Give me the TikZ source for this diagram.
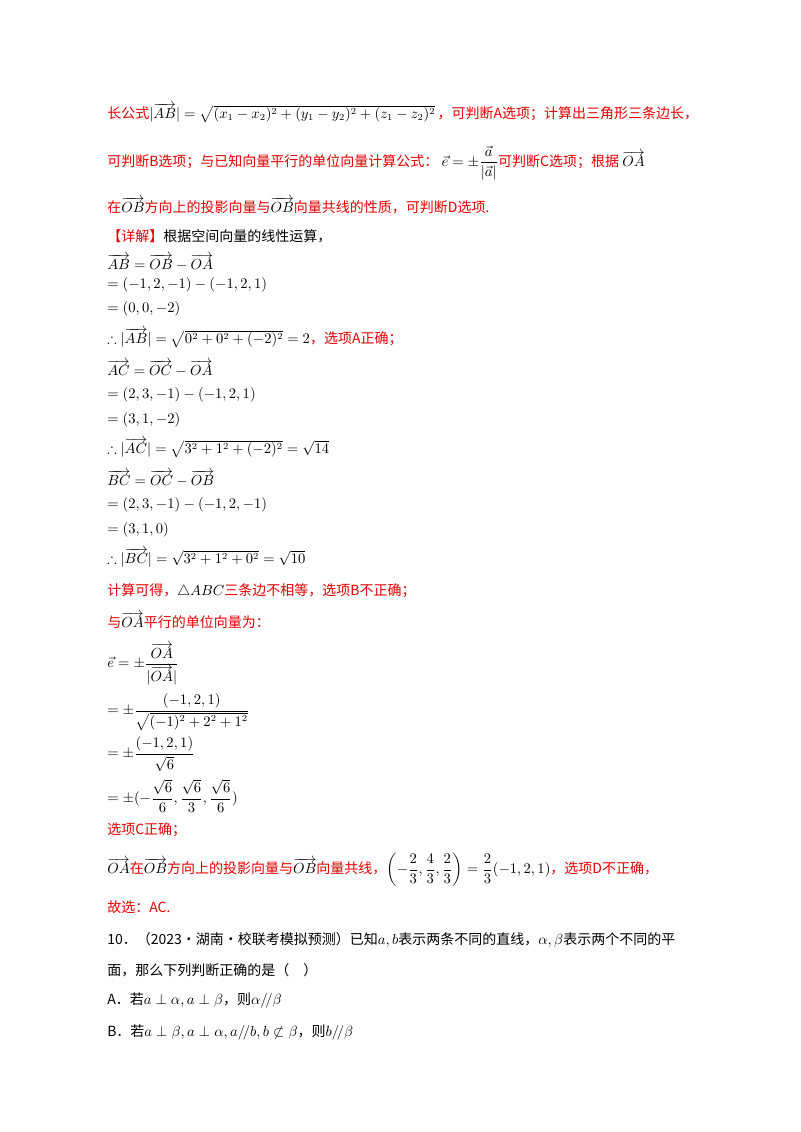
\documentclass[tikz,border=0pt]{standalone}
\usepackage{amsmath,amssymb}
\usepackage{fontspec}
\setmainfont{Noto Sans CJK SC}
\definecolor{rd}{RGB}{230,0,0}
\newcommand{\vv}[1]{\overrightarrow{#1}}
\begin{document}
\begin{tikzpicture}[x=0.75pt,y=-0.75pt,
  tx/.style={anchor=west,inner sep=0pt,font=\fontsize{10.5}{13}\selectfont},
  rt/.style={tx,text=rd}]
\useasboundingbox (0,0) rectangle (800,1132);
\node[rt] (l1) at (107,113) {长公式{\color{black}$|\vv{AB}|=\sqrt{(x_1-x_2)^2+(y_1-y_2)^2+(z_1-z_2)^2}$}\,，可判断A选项；计算出三角形三条边长，};
\node[rt] (l2) at (107,163) {可判断B选项；与已知向量平行的单位向量计算公式：\ {\color{black}$\vec e=\pm\dfrac{\vec a}{|\vec a|}$}可判断C选项；根据\ {\color{black}$\vv{OA}$}};
\node[rt] (l3) at (107,206) {在{\color{black}$\vv{OB}$}方向上的投影向量与{\color{black}$\vv{OB}$}向量共线的性质，可判断D选项.};
\node[tx] (l4) at (107,236) {{\color{rd}【详解】}根据空间向量的线性运算，};
\node[tx] (l5) at (107,262) {$\vv{AB}=\vv{OB}-\vv{OA}$};
\node[tx] (l6) at (107,285) {$=(-1,2,-1)-(-1,2,1)$};
\node[tx] (l7) at (107,309) {$=(0,0,-2)$};
\node[tx] (l8) at (107,338) {$\therefore|\vv{AB}|=\sqrt{0^2+0^2+(-2)^2}=2${\color{rd}，选项A正确；}};
\node[tx] (l9) at (107,368) {$\vv{AC}=\vv{OC}-\vv{OA}$};
\node[tx] (l10) at (107,395) {$=(2,3,-1)-(-1,2,1)$};
\node[tx] (l11) at (107,420) {$=(3,1,-2)$};
\node[tx] (l12) at (107,448) {$\therefore|\vv{AC}|=\sqrt{3^2+1^2+(-2)^2}=\sqrt{14}$};
\node[tx] (l13) at (107,478) {$\vv{BC}=\vv{OC}-\vv{OB}$};
\node[tx] (l14) at (107,505) {$=(2,3,-1)-(-1,2,-1)$};
\node[tx] (l15) at (107,530) {$=(3,1,0)$};
\node[tx] (l16) at (107,558) {$\therefore|\vv{BC}|=\sqrt{3^2+1^2+0^2}=\sqrt{10}$};
\node[rt] (l17) at (107,591) {计算可得，{\color{black}$\triangle ABC$}三条边不相等，选项B不正确；};
\node[rt] (l18) at (107,620) {与{\color{black}$\vv{OA}$}平行的单位向量为：};
\node[tx] (l19) at (107,664) {$\vec e=\pm\dfrac{\vv{OA}}{|\vv{OA}|}$};
\node[tx] (l20) at (107,712) {$=\pm\dfrac{(-1,2,1)}{\sqrt{(-1)^2+2^2+1^2}}$};
\node[tx] (l21) at (107,754) {$=\pm\dfrac{(-1,2,1)}{\sqrt{6}}$};
\node[tx] (l22) at (107,796) {$=\pm(-\dfrac{\sqrt6}{6},\dfrac{\sqrt6}{3},\dfrac{\sqrt6}{6})$};
\node[rt] (l23) at (107,830) {选项C正确；};
\node[rt] (l24) at (107,870) {{\color{black}$\vv{OA}$}在{\color{black}$\vv{OB}$}方向上的投影向量与{\color{black}$\vv{OB}$}向量共线，{\color{black}$\left(-\dfrac23,\dfrac43,\dfrac23\right)=\dfrac23(-1,2,1)$}，选项D不正确，};
\node[rt] (l25) at (107,907) {故选：AC.};
\node[tx] (l26) at (107,940) {10．（2023·湖南·校联考模拟预测）已知$a,b$表示两条不同的直线，$\alpha,\beta$表示两个不同的平};
\node[tx] (l27) at (107,970) {面，那么下列判断正确的是（\quad）};
\node[tx] (l28) at (107,1000) {A．若$a\perp\alpha,a\perp\beta$，则$\alpha/\!/\beta$};
\node[tx] (l29) at (107,1032) {B．若$a\perp\beta,a\perp\alpha,a/\!/b,b\not\subset\beta$，则$b/\!/\beta$};
\end{tikzpicture}
\end{document}
